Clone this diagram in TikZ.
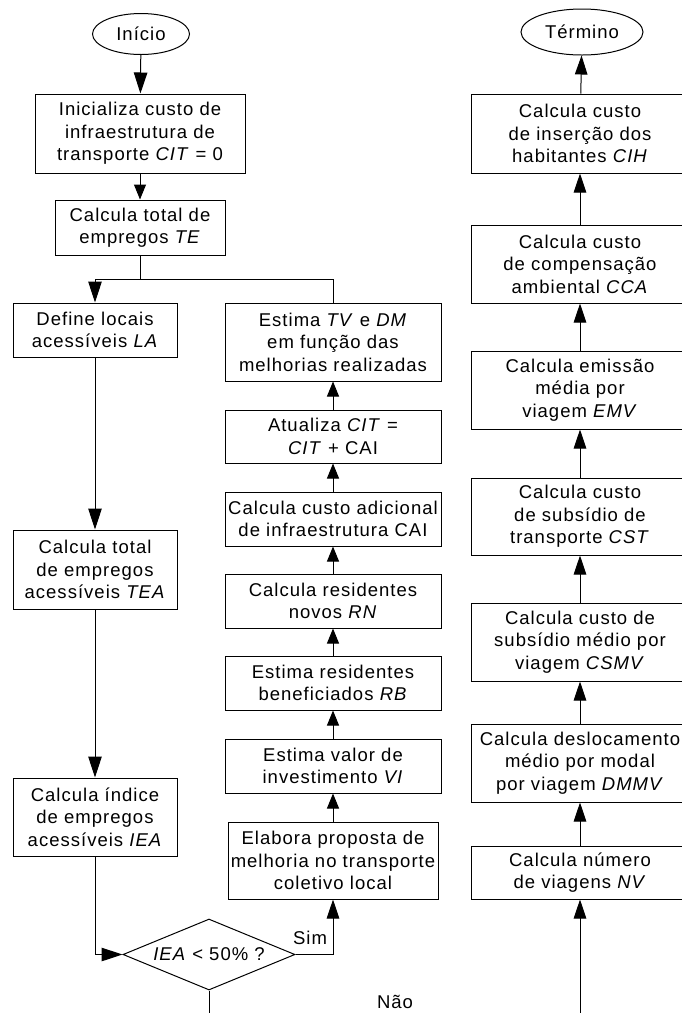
\documentclass[tikz,border=0pt]{standalone}
\usepackage{fontspec}
\setmainfont{Liberation Sans}[LetterSpace=5.5]
\usetikzlibrary{shapes.geometric,arrows.meta}
\begin{document}
\begin{tikzpicture}[x=1pt,y=-1pt,
  every node/.style={font=\fontsize{18.5}{22.5}\selectfont, align=center, inner sep=1pt},
  box/.style={draw, rectangle, line width=1pt},
  term/.style={draw, ellipse, line width=1pt, inner sep=0pt},
  dec/.style={draw, diamond, line width=1pt, inner sep=0pt, aspect=2.42, minimum width=172pt, minimum height=71pt},
  conn/.style={line width=1pt},
  arr/.style={line width=1pt, -{Triangle[length=19pt,width=12.5pt]}},
  arrbig/.style={line width=1pt, -{Triangle[length=21pt,width=13.5pt]}},
  arrsm/.style={line width=1pt, -{Triangle[length=15pt,width=12pt]}}
]
\useasboundingbox (0,0) rectangle (682,1013);
\clip (0,0) rectangle (682,1013);
\fill[white] (0,0) rectangle (682,1013);

% left column
\node[term, minimum width=97pt, minimum height=41pt] (ini) at (141,34) {Início};
\node[box, minimum width=210pt, minimum height=79pt] (b1) at (140,133.5) {Inicializa custo de\\infraestrutura de\\transporte \textit{CIT} = 0};
\node[box, minimum width=170pt, minimum height=55pt] (b2) at (140,227.5) {Calcula total de\\empregos \textit{TE}};
\node[box, minimum width=164pt, minimum height=54pt] (la) at (95,330) {Define locais\\acessíveis \textit{LA}};
\node[box, minimum width=164pt, minimum height=79pt] (tea) at (95,569.5) {Calcula total\\de empregos\\acessíveis \textit{TEA}};
\node[box, minimum width=164pt, minimum height=78pt] (iea) at (95,817) {Calcula índice\\de empregos\\acessíveis \textit{IEA}};
\node[dec] (d) at (209,954.5) {\textit{IEA} < 50\% ?};

% middle column
\node[box, minimum width=216pt, minimum height=78pt] (tvdm) at (333,342) {Estima \textit{TV} e \textit{DM}\\em função das\\melhorias realizadas};
\node[box, minimum width=216pt, minimum height=53pt] (cit) at (333,436.5) {Atualiza \textit{CIT} =\\\textit{CIT} + CAI};
\node[box, minimum width=216pt, minimum height=54pt] (cai) at (333,519) {Calcula custo adicional\\de infraestrutura CAI};
\node[box, minimum width=216pt, minimum height=54pt] (rn) at (333,601) {Calcula residentes\\novos \textit{RN}};
\node[box, minimum width=216pt, minimum height=54pt] (rb) at (333,683) {Estima residentes\\beneficiados \textit{RB}};
\node[box, minimum width=216pt, minimum height=54pt] (vi) at (333,766) {Estima valor de\\investimento \textit{VI}};
\node[box, minimum width=210pt, minimum height=77pt] (elab) at (333,860.5) {Elabora proposta de\\melhoria no transporte\\coletivo local};

% right column
\node[term, minimum width=122pt, minimum height=46pt] (fim) at (582,32) {Término};
\node[box, minimum width=218pt, minimum height=79pt] (cih) at (580,133.5) {Calcula custo\\de inserção dos\\habitantes \textit{CIH}};
\node[box, minimum width=218pt, minimum height=78pt] (cca) at (580,264) {Calcula custo\\de compensação\\ambiental \textit{CCA}};
\node[box, minimum width=218pt, minimum height=78pt] (emv) at (580,390) {Calcula emissão\\média por\\viagem \textit{EMV}};
\node[box, minimum width=218pt, minimum height=77pt] (cst) at (580,516.5) {Calcula custo\\de subsídio de\\transporte \textit{CST}};
\node[box, minimum width=218pt, minimum height=78pt] (csmv) at (580,642) {Calcula custo de\\subsídio médio por\\viagem \textit{CSMV}};
\node[box, minimum width=218pt, minimum height=78pt] (dmmv) at (580,763) {Calcula deslocamento\\médio por modal\\por viagem \textit{DMMV}};
\node[box, minimum width=218pt, minimum height=53pt] (nv) at (580,872.5) {Calcula número\\de viagens \textit{NV}};

% coordinates
\coordinate (jn) at (140,279);
\coordinate (nao) at (209,1013);
\coordinate (rin) at (580,1013);

% connectors
\draw[arrbig] (ini) -- (b1);
\draw[arrsm] (b1) -- (b2);
\draw[conn] (b2.south) -- (jn);
\draw[arrbig] (jn) -| (la.north);
\draw[conn] (jn) -| (tvdm.north);
\draw[arrbig] (la) -- (tea);
\draw[arrbig] (tea) -- (iea);
\draw[arrbig] (iea.south) |- (d.west);
\draw[arr] (d.east) -| (elab.south);
\draw[arrsm] (elab) -- (vi);
\draw[arrsm] (vi) -- (rb);
\draw[arrsm] (rb) -- (rn);
\draw[arrsm] (rn) -- (cai);
\draw[arrsm] (cai) -- (cit);
\draw[arrsm] (cit) -- (tvdm);
\draw[conn] (d.south) -- (nao);
\draw[arr] (rin) -- (nv);
\draw[arr] (nv) -- (dmmv);
\draw[arr] (dmmv) -- (csmv);
\draw[arr] (csmv) -- (cst);
\draw[arr] (cst) -- (emv);
\draw[arr] (emv) -- (cca);
\draw[arr] (cca) -- (cih);
\draw[arr] (cih) -- (fim);

% labels
\node (sim) at (310,938) {Sim};
\node (naolbl) at (395,1002) {Não};
\end{tikzpicture}
\end{document}
